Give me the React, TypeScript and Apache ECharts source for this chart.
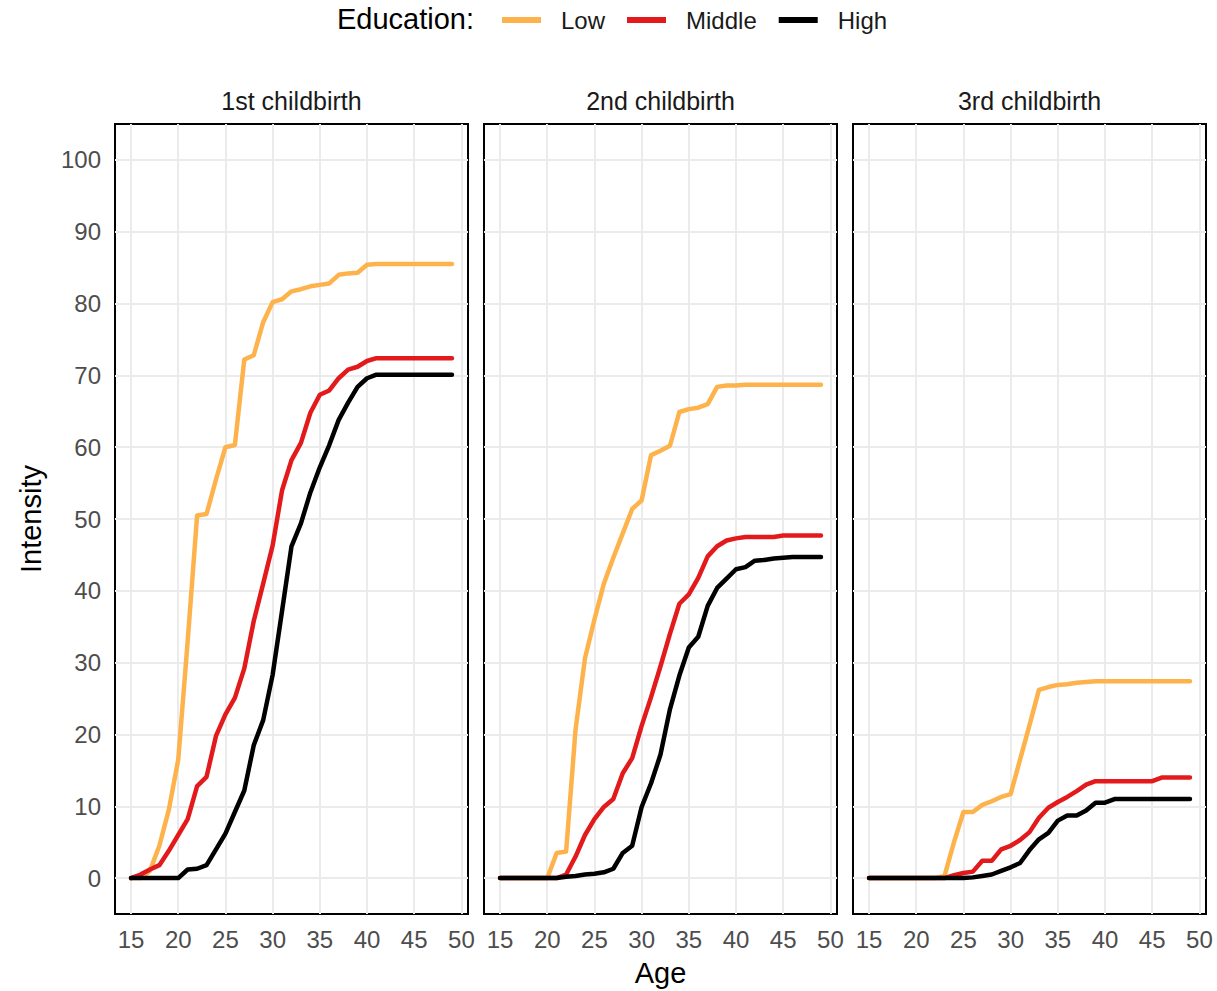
import React, { useEffect, useRef } from "react";
import * as echarts from "echarts";

const AGES = [15, 16, 17, 18, 19, 20, 21, 22, 23, 24, 25, 26, 27, 28, 29, 30, 31, 32, 33, 34, 35, 36, 37, 38, 39, 40, 41, 42, 43, 44, 45, 46, 47, 48, 49];

const PANELS = ["1st childbirth", "2nd childbirth", "3rd childbirth"];
const EDUCATION = ["Low", "Middle", "High"];
const COLORS = ["#FEB24C", "#E31A1C", "#000000"];
const X_TICKS = [15, 20, 25, 30, 35, 40, 45, 50];
const Y_TICKS = [0, 10, 20, 30, 40, 50, 60, 70, 80, 90, 100];

// 1st childbirth
const FIRST_LOW = [0, 0, 1, 4.5, 9.5, 16.5, 33, 50.5, 50.7, 55.5, 60, 60.3, 72.2, 72.8, 77.4, 80.2, 80.6, 81.7, 82, 82.4, 82.6, 82.8, 84, 84.2, 84.3, 85.4, 85.5, 85.5, 85.5, 85.5, 85.5, 85.5, 85.5, 85.5, 85.5];
const FIRST_MIDDLE = [0, 0.5, 1.2, 1.8, 3.8, 6, 8.2, 12.8, 14.1, 19.8, 22.8, 25.1, 29.2, 35.8, 41, 46.3, 54, 58.2, 60.6, 64.8, 67.3, 67.9, 69.6, 70.8, 71.2, 72, 72.4, 72.4, 72.4, 72.4, 72.4, 72.4, 72.4, 72.4, 72.4];
const FIRST_HIGH = [0, 0, 0, 0, 0, 0, 1.2, 1.3, 1.8, 4, 6.2, 9.2, 12.2, 18.5, 22, 28.3, 37.2, 46.2, 49.4, 53.7, 57.2, 60.3, 63.8, 66.2, 68.4, 69.6, 70.1, 70.1, 70.1, 70.1, 70.1, 70.1, 70.1, 70.1, 70.1];

// 2nd childbirth
const SECOND_LOW = [0, 0, 0, 0, 0, 0, 3.5, 3.7, 20.7, 30.6, 36, 41, 44.6, 48, 51.4, 52.6, 58.9, 59.5, 60.2, 64.9, 65.3, 65.5, 66, 68.4, 68.6, 68.6, 68.7, 68.7, 68.7, 68.7, 68.7, 68.7, 68.7, 68.7, 68.7];
const SECOND_MIDDLE = [0, 0, 0, 0, 0, 0, 0, 0.5, 3, 6, 8.2, 9.9, 11, 14.6, 16.7, 21.2, 25.2, 29.5, 34, 38.2, 39.5, 41.8, 44.8, 46.2, 47, 47.3, 47.5, 47.5, 47.5, 47.5, 47.7, 47.7, 47.7, 47.7, 47.7];
const SECOND_HIGH = [0, 0, 0, 0, 0, 0, 0, 0.2, 0.3, 0.5, 0.6, 0.8, 1.3, 3.5, 4.5, 9.9, 13.2, 17.2, 23.5, 28.2, 32.1, 33.6, 37.9, 40.4, 41.7, 43, 43.3, 44.2, 44.3, 44.5, 44.6, 44.7, 44.7, 44.7, 44.7];

// 3rd childbirth
const THIRD_LOW = [0, 0, 0, 0, 0, 0, 0, 0, 0.3, 5, 9.2, 9.2, 10.2, 10.7, 11.3, 11.7, 16.5, 21.3, 26.2, 26.6, 26.9, 27, 27.2, 27.3, 27.4, 27.4, 27.4, 27.4, 27.4, 27.4, 27.4, 27.4, 27.4, 27.4, 27.4];
const THIRD_MIDDLE = [0, 0, 0, 0, 0, 0, 0, 0, 0, 0.4, 0.7, 0.9, 2.4, 2.4, 4, 4.5, 5.3, 6.4, 8.4, 9.8, 10.6, 11.3, 12.1, 13, 13.5, 13.5, 13.5, 13.5, 13.5, 13.5, 13.5, 14, 14, 14, 14];
const THIRD_HIGH = [0, 0, 0, 0, 0, 0, 0, 0, 0, 0, 0, 0.1, 0.3, 0.5, 1, 1.5, 2.1, 3.9, 5.4, 6.3, 8, 8.7, 8.7, 9.4, 10.5, 10.5, 11, 11, 11, 11, 11, 11, 11, 11, 11];

const PANEL_DATA = [
  [FIRST_LOW, FIRST_MIDDLE, FIRST_HIGH],
  [SECOND_LOW, SECOND_MIDDLE, SECOND_HIGH],
  [THIRD_LOW, THIRD_MIDDLE, THIRD_HIGH],
];

const FONT = "'Liberation Sans', Arial, Helvetica, sans-serif";
const GRID_LEFTS = [115, 484, 853];
const GRID_TOP = 124;
const GRID_W = 353;
const GRID_H = 790;

export default function App() {
  const ref = useRef<HTMLDivElement>(null);

  useEffect(() => {
    document.body.style.margin = "0";
    if (!ref.current) return;
    const chart = echarts.init(ref.current, null, { renderer: "svg" });

    const grids = GRID_LEFTS.map((left) => ({
      left,
      top: GRID_TOP,
      width: GRID_W,
      height: GRID_H,
      show: true,
      borderColor: "#000",
      borderWidth: 2,
      backgroundColor: "#fff",
      containLabel: false,
      outerBoundsMode: "none",
      z: 0,
    }));

    const xAxes = GRID_LEFTS.map((_, i) => ({
      type: "value",
      gridIndex: i,
      min: 13.3,
      max: 50.7,
      name: i === 1 ? "Age" : "",
      nameLocation: "middle",
      nameGap: 44,
      nameTextStyle: { fontSize: 29, color: "#000", fontFamily: FONT },
      axisLine: { show: false },
      axisTick: { show: false, customValues: X_TICKS },
      axisLabel: {
        show: true,
        customValues: X_TICKS,
        fontSize: 24,
        color: "#4d4d4d",
        fontFamily: FONT,
        margin: 13,
      },
      splitLine: { show: true, lineStyle: { color: "#EBEBEB", width: 2 } },
    }));

    const yAxes = GRID_LEFTS.map((_, i) => ({
      type: "value",
      gridIndex: i,
      min: -5,
      max: 105,
      name: i === 0 ? "Intensity" : "",
      nameLocation: "middle",
      nameGap: 70,
      nameRotate: 90,
      nameTextStyle: { fontSize: 29, color: "#000", fontFamily: FONT },
      axisLine: { show: false },
      axisTick: { show: false, customValues: Y_TICKS },
      axisLabel: {
        show: i === 0,
        customValues: Y_TICKS,
        fontSize: 24,
        color: "#4d4d4d",
        fontFamily: FONT,
        margin: 14,
      },
      splitLine: { show: true, lineStyle: { color: "#EBEBEB", width: 2 } },
    }));

    const series: any[] = [];
    PANEL_DATA.forEach((panel, pi) => {
      panel.forEach((vals, ei) => {
        series.push({
          type: "line",
          name: EDUCATION[ei],
          xAxisIndex: pi,
          yAxisIndex: pi,
          data: AGES.map((a, k) => [a, vals[k]]),
          showSymbol: false,
          symbol: "none",
          color: COLORS[ei],
          lineStyle: { width: 4.5, color: COLORS[ei], join: "round", cap: "round" },
          z: 2 + ei,
        });
      });
    });

    const graphics: any[] = [
      {
        type: "text",
        left: 337,
        top: 4,
        style: {
          text: "Education:",
          fontSize: 29,
          fill: "#000",
          fontFamily: FONT,
        },
      },
      ...PANELS.map((p, i) => ({
        type: "text",
        x: GRID_LEFTS[i] + GRID_W / 2,
        y: 101,
        style: {
          text: p,
          fontSize: 25,
          fill: "#1a1a1a",
          fontFamily: FONT,
          align: "center",
          verticalAlign: "middle",
        },
      })),
    ];

    chart.setOption({
      animation: false,
      backgroundColor: "#fff",
      grid: grids,
      xAxis: xAxes,
      yAxis: yAxes,
      legend: {
        data: EDUCATION,
        left: 502,
        top: 8,
        padding: 0,
        icon: "rect",
        itemWidth: 39,
        itemHeight: 6,
        itemGap: 22,
        textStyle: {
          fontSize: 24,
          color: "#1a1a1a",
          fontFamily: FONT,
          padding: [0, 0, 0, 15],
        },
      },
      graphic: graphics,
      series,
    });

    return () => chart.dispose();
  }, []);

  return <div ref={ref} style={{ width: 1217, height: 991 }} />;
}
